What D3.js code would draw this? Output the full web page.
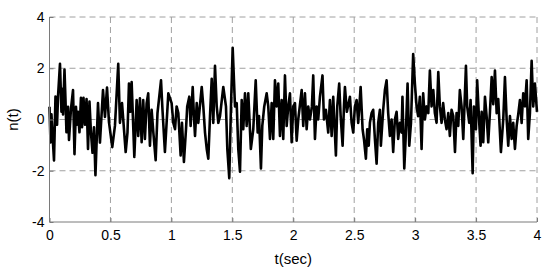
<!DOCTYPE html>
<html>
<head>
<meta charset="utf-8">
<script src="https://cdn.jsdelivr.net/npm/d3@7"></script>
<style>
  body { margin: 0; background: #fff; }
  text { font-family: Arial, "Liberation Sans", sans-serif; }
</style>
</head>
<body>
<svg id="chart" width="550" height="271"></svg>
<script>
// sample times (sec) and noise values
const tSec = [
  0, 0.008, 0.016, 0.025, 0.037, 0.049, 0.062, 0.070, 0.086, 0.098,
  0.107, 0.111, 0.123, 0.131, 0.139, 0.152, 0.160, 0.176, 0.193, 0.205,
  0.217, 0.226, 0.234, 0.246, 0.258, 0.267, 0.279, 0.291, 0.304, 0.316,
  0.328, 0.340, 0.353, 0.365, 0.377, 0.398, 0.414, 0.439, 0.455,
  0.472, 0.488, 0.515, 0.537, 0.564, 0.578, 0.595, 0.625, 0.640, 0.652,
  0.663, 0.674, 0.696, 0.715, 0.728, 0.742, 0.756, 0.769, 0.783, 0.797,
  0.810, 0.824, 0.838, 0.852, 0.871, 0.886, 0.915, 0.927, 0.947, 0.975,
  1.002, 1.016,
  1.030, 1.043, 1.057, 1.076, 1.087, 1.103, 1.120, 1.130, 1.147, 1.158,
  1.175, 1.185, 1.194, 1.208, 1.221, 1.249, 1.262, 1.276, 1.290, 1.303,
  1.317, 1.331, 1.344, 1.358, 1.372, 1.385, 1.399, 1.426, 1.448, 1.459,
  1.475, 1.489, 1.503, 1.522, 1.536,
  1.549, 1.563, 1.577, 1.590, 1.604, 1.618, 1.631, 1.652, 1.672, 1.692,
  1.708, 1.719, 1.735, 1.746, 1.762, 1.782, 1.795, 1.809, 1.823, 1.836,
  1.850, 1.864, 1.877, 1.891, 1.905, 1.918, 1.932, 1.946, 1.959, 1.973,
  1.987, 2.000, 2.014, 2.028, 2.041, 2.069,
  2.082, 2.096, 2.110, 2.123, 2.137, 2.153, 2.164, 2.178, 2.192, 2.205,
  2.219, 2.240, 2.252, 2.268, 2.287, 2.301, 2.315, 2.328, 2.350, 2.361,
  2.377, 2.389, 2.405, 2.416, 2.424, 2.440, 2.465, 2.479, 2.492, 2.506,
  2.520, 2.533, 2.553, 2.569, 2.580, 2.596, 2.607, 2.619,
  2.629, 2.643, 2.656, 2.670, 2.684, 2.697, 2.711, 2.719, 2.738, 2.752,
  2.766, 2.779, 2.793, 2.807, 2.820, 2.834, 2.848, 2.861, 2.875, 2.889,
  2.896, 2.911, 2.922, 2.938, 2.952, 2.966, 2.984, 2.998, 3.012, 3.025,
  3.039, 3.053, 3.066, 3.080, 3.094, 3.108, 3.121,
  3.135, 3.149, 3.162, 3.176, 3.190, 3.203, 3.217, 3.230, 3.244, 3.258,
  3.272, 3.285, 3.299, 3.313, 3.327, 3.340, 3.354, 3.367, 3.381, 3.395,
  3.417, 3.427, 3.444, 3.455, 3.472, 3.482, 3.499, 3.509, 3.526, 3.537,
  3.546, 3.559, 3.573, 3.587, 3.600, 3.614, 3.628, 3.641, 3.655, 3.669,
  3.682, 3.704, 3.723, 3.737, 3.751, 3.764, 3.778, 3.792, 3.805, 3.819,
  3.833, 3.846, 3.860, 3.874, 3.887, 3.901, 3.915, 3.928, 3.942, 3.956,
  3.969, 3.983, 4.000
];
const nVal = [
  0.50, -0.90, 0.20, -0.60, -1.60, 0.90, -0.20, 0.90, 2.17, 0.30,
  1.20, 0.20, 1.95, 0.80, -0.50, 0.50, -0.80, 0.40, 1.15, -1.35,
  0.50, -0.20, 0.30, -0.50, 0.85, -0.30, 0.85, -0.20, 0.80, -1.15,
  0.70, -0.50, -1.30, -0.30, -2.17, 0.64, -0.90, 1.15, 0.10,
  1.25, -0.10, -1.08, -0.25, 2.17, -0.13, 0.64, -1.27, -0.50, 1.40,
  0.30, 1.46, -1.46, 0.76, -0.64, 0.83, -0.89, 0.76, -0.76, 0.64,
  1.02, -1.02, 0.38, -0.50, -1.59, 0.25, 1.53, 0.38, -1.27, 1.02,
  0.64, -0.13,
  -0.38, 0.51, 0.25, -1.40, -0.13, -1.66, -0.38, 0.51, 0.89, -0.25,
  1.27, 0.13, -0.64, 0.64, -0.13, 1.27, 0.51, -0.51, -1.15, -1.53,
  0.13, 1.59, -0.13, 2.10, 0.51, -0.13, 0.13, 1.27, 0.51, -1.15,
  -2.29, 0.51, 2.80, 0.51, 0.64,
  -1.15, -2.04, 0.76, -0.38, 1.02, -0.25, 1.02, -1.15, -0.38, 1.53,
  -0.51, 0.13, -1.91, -0.25, 0.51, 1.02, 0.51, -0.76, 0.64, -0.76,
  1.53, 0.51, 1.40, -0.64, 0.76, -0.76, 1.72, -0.25, 0.51, 1.02,
  -0.89, 0.51, 0.64, -0.83, 0.00, 1.15,
  -0.25, 1.02, -0.38, 0.51, 0.00, 0.51, 1.72, -0.76, 0.51, 0.00,
  0.89, 1.72, 0.00, 0.38, -0.51, 0.76, -0.64, 0.89, -1.40, 0.51,
  1.40, 0.13, -1.02, 0.51, 1.27, 0.30, 0.89, -0.13, -0.51, 0.51,
  0.76, -0.13, 1.27, -0.38, -0.76, -1.53, -0.38, -1.02,
  -0.13, 0.25, 0.38, -0.76, -1.72, -0.13, 0.38, -1.02, 0.38, 1.15,
  1.53, 0.25, -0.64, 0.00, -1.27, 0.00, 0.30, -0.76, -0.13, -0.51,
  0.89, -1.91, -0.76, 1.40, -1.02, -0.13, 2.55, 1.40, 0.51, 0.13,
  0.89, -1.15, 1.02, 0.00, 0.51, 0.25, 1.91,
  0.51, 1.15, 0.25, -0.13, 1.85, 0.51, -0.13, 0.64, 0.00, -0.38,
  0.25, -0.64, 0.38, 0.13, -1.27, 0.25, -0.25, 1.15, 0.51, -0.76,
  2.10, 0.51, -0.13, 0.76, -2.10, 0.51, -0.38, 1.53, -0.13, -1.02,
  0.30, -0.89, 0.89, 0.10, -0.89, 0.30, 1.66, 0.60, 1.91, 0.25,
  0.80, -1.27, 0.00, 1.66, 0.00, -1.02, 0.13, -0.76, -0.13, -1.15,
  -0.25, 0.20, 0.76, -0.13, 1.02, 0.51, 1.53, -0.76, 0.25, 2.29,
  0.51, 1.40, 0.30
];
const xTicks = [0, 0.5, 1, 1.5, 2, 2.5, 3, 3.5, 4];
const yTicks = [-4, -2, 0, 2, 4];

const svg = d3.select('#chart');
const plotLeft = 49.5, plotRight = 537, plotTop = 17, plotBottom = 222;

let xScale = d3.scaleLinear()
               .domain([0, 4])
               .range([plotLeft, plotRight]);
let yScale = d3.scaleLinear()
               .domain([-4, 4])
               .range([plotBottom, plotTop]);

// dashed grid
svg.selectAll('.vgrid')
   .data(xTicks.slice(1))
   .enter()
   .append('line')
   .attr('class', 'vgrid')
   .attr('x1', d => xScale(d))
   .attr('x2', d => xScale(d))
   .attr('y1', plotTop)
   .attr('y2', plotBottom)
   .attr('stroke', '#a0a0a0')
   .attr('stroke-width', 1)
   .attr('stroke-dasharray', '6,4');
svg.selectAll('.hgrid')
   .data(yTicks.slice(1))
   .enter()
   .append('line')
   .attr('class', 'hgrid')
   .attr('x1', plotLeft)
   .attr('x2', plotRight)
   .attr('y1', d => yScale(d))
   .attr('y2', d => yScale(d))
   .attr('stroke', '#a0a0a0')
   .attr('stroke-width', 1)
   .attr('stroke-dasharray', '6,4');

// noise trace
let lineFunction = d3.line()
                     .x((d, i) => xScale(tSec[i]))
                     .y(d => yScale(d));
svg.append('path')
   .attr('d', lineFunction(nVal))
   .attr('fill', 'none')
   .attr('stroke', 'black')
   .attr('stroke-width', 2.6)
   .attr('stroke-linejoin', 'round');

// axes
let xAxis = d3.axisBottom(xScale)
              .tickValues(xTicks)
              .tickSize(-4)
              .tickPadding(8)
              .tickFormat(d => String(d));
let yAxis = d3.axisLeft(yScale)
              .tickValues(yTicks)
              .tickSize(-4)
              .tickPadding(5)
              .tickFormat(d => String(d));

let gx = svg.append('g')
            .attr('transform', `translate(0,${plotBottom})`)
            .call(xAxis);
let gy = svg.append('g')
            .attr('transform', `translate(${plotLeft},0)`)
            .call(yAxis);
[gx, gy].forEach(g => {
  g.select('.domain').attr('stroke', '#7a7a7a');
  g.selectAll('.tick line').attr('stroke', '#7a7a7a');
  g.selectAll('.tick text')
   .attr('fill', '#000')
   .attr('font-size', '14px')
   .attr('font-family', 'Arial, "Liberation Sans", sans-serif');
});
gx.select('.domain').attr('d', `M${plotLeft},0H${plotRight}`);
gy.select('.domain').attr('d', `M0,${plotTop}V${plotBottom}`);

svg.append('text')
   .attr('x', xScale(2))
   .attr('y', 264)
   .attr('text-anchor', 'middle')
   .attr('font-size', '15px')
   .text('t(sec)');
svg.append('text')
   .attr('transform', `translate(18,${yScale(0)}) rotate(-90)`)
   .attr('text-anchor', 'middle')
   .attr('font-size', '15px')
   .text('n(t)');
</script>
</body>
</html>
